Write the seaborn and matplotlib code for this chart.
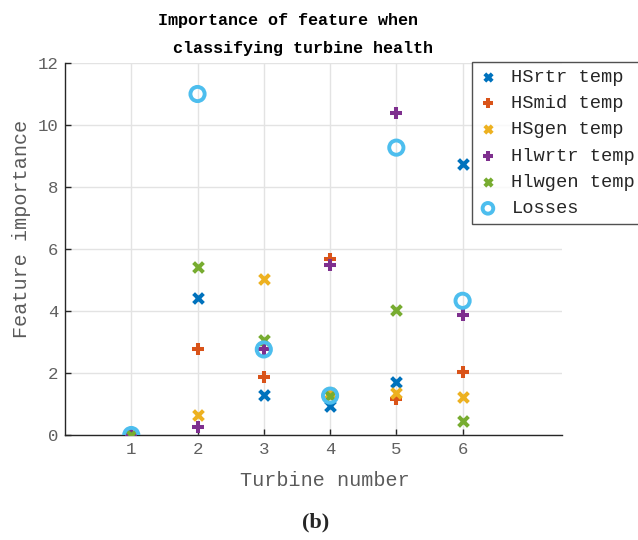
import matplotlib
matplotlib.use("Agg")
import matplotlib.pyplot as plt
import seaborn as sns
import pandas as pd

turbines = [1, 2, 3, 4, 5, 6]
hsrtr = [0.0, 4.41, 1.29, 0.94, 1.72, 8.73]
hsmid = [0.0, 2.79, 1.87, 5.69, 1.15, 2.02]
hsgen = [0.0, 0.65, 5.04, 1.35, 1.34, 1.24]
hlwrtr = [0.0, 0.25, 2.76, 5.47, 10.38, 3.87]
hlwgen = [0.0, 5.41, 3.06, 1.26, 4.04, 0.45]
losses = [0.0, 11.0, 2.76, 1.27, 9.27, 4.33]
labels = ["HSrtr temp", "HSmid temp", "HSgen temp", "Hlwrtr temp", "Hlwgen temp", "Losses"]

series = [hsrtr, hsmid, hsgen, hlwrtr, hlwgen, losses]
colors = ["#0072BD", "#D95319", "#EDB120", "#7E2F8E", "#77AC30", "#4DBEEE"]
markers = ["x", "+", "x", "+", "x", "o"]

sns.set_style("white")
mono = ["Liberation Mono", "DejaVu Sans Mono"]
plt.rcParams["font.family"] = mono

W, H = 638, 540
fig = plt.figure(figsize=(W / 100, H / 100), dpi=100)
ax = fig.add_axes([65 / W, 1 - 435 / H, (562 - 65) / W, (435 - 63) / H])

for vals, lab, c, m in zip(series, labels, colors, markers):
    df = pd.DataFrame({"Turbine": turbines, "Importance": vals})
    if m == "o":
        sns.scatterplot(data=df, x="Turbine", y="Importance", ax=ax, marker="o",
                        s=105, facecolor="none", edgecolor=c, linewidth=2.8,
                        label=lab, zorder=5)
    else:
        sns.scatterplot(data=df, x="Turbine", y="Importance", ax=ax, marker=m,
                        s=50 if m == "x" else 75, color=c, linewidth=2.9,
                        label=lab, zorder=4)

ax.set_xlim(0, 7.5)
ax.set_ylim(0, 12)
ax.set_xticks(turbines)
ax.set_yticks([0, 2, 4, 6, 8, 10, 12])
ax.grid(True, color="#e3e3e3", linewidth=1.0)
ax.set_axisbelow(True)
for s in ["top", "right"]:
    ax.spines[s].set_visible(False)
for s in ["left", "bottom"]:
    ax.spines[s].set_color("#262626")
    ax.spines[s].set_linewidth(1.0)
ax.tick_params(direction="in", length=4, width=1, colors="#262626",
               labelcolor="#606060", labelsize=12.5, left=True, bottom=True, pad=5)
ax.set_xlabel("Turbine number", fontsize=14.5, color="#5a5a5a")
ax.set_ylabel("Feature importance", fontsize=14.5, color="#5a5a5a")
ax.xaxis.set_label_coords((325 - 65) / (562 - 65), -(481 - 435) / (435 - 63))
ax.yaxis.set_label_coords(-(65 - 22) / (562 - 65), (435 - 229) / (435 - 63))
ax.xaxis.label.set_va("center")
ax.yaxis.label.set_va("center")

fig.text(288 / W, 1 - 21 / H, "Importance of feature when", ha="center", va="center",
         fontsize=12.1, fontweight="bold", color="black")
fig.text(303 / W, 1 - 48 / H, "classifying turbine health", ha="center", va="center",
         fontsize=12.1, fontweight="bold", color="black")

leg = ax.legend(loc="upper left", bbox_to_anchor=(472 / W, 1 - 62 / H),
                bbox_transform=fig.transFigure, frameon=True, fancybox=False,
                fontsize=13.5, handletextpad=0.75, handlelength=1.0,
                borderaxespad=0, labelspacing=0.49, borderpad=0.35,
                markerscale=0.75)
leg.get_frame().set_edgecolor("#262626")
leg.get_frame().set_linewidth(1.0)
for t in leg.get_texts():
    t.set_color("#262626")

fig.text(316 / W, 1 - 522 / H, "(b)", ha="center", va="center",
         fontsize=16, fontweight="bold", family=["Liberation Serif", "DejaVu Serif"])

fig.savefig("out.png", dpi=100)
